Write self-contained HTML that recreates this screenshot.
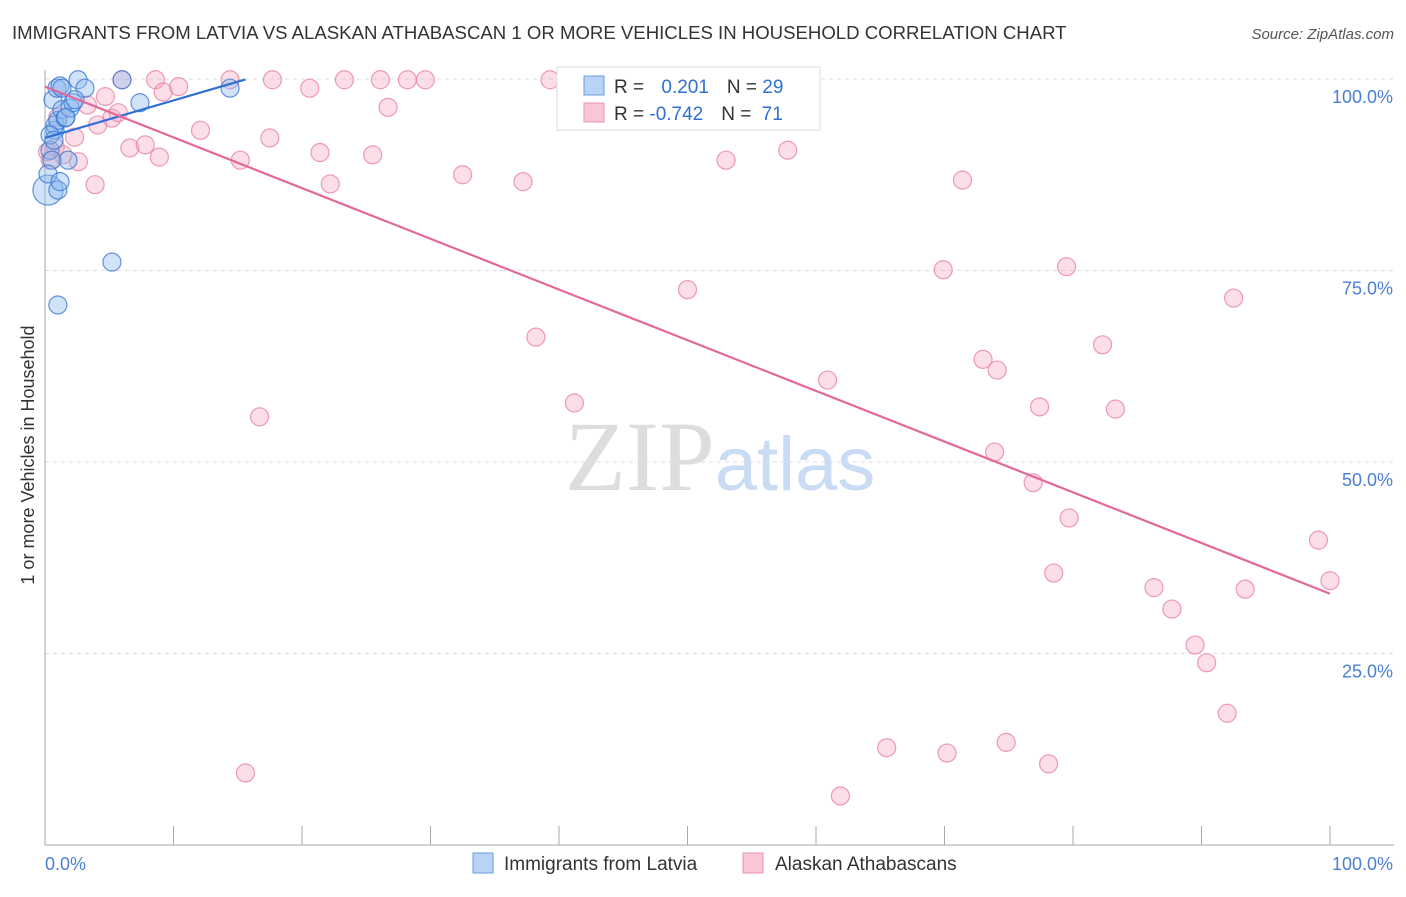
<!DOCTYPE html>
<html><head><meta charset="utf-8"><style>
body{margin:0;background:#fff;font-family:"Liberation Sans",sans-serif;}
</style></head><body>
<svg id="c" width="1406" height="892" xmlns="http://www.w3.org/2000/svg" style="font-family:'Liberation Sans',sans-serif">
<text x="12" y="39" font-size="18.6" fill="#333">IMMIGRANTS FROM LATVIA VS ALASKAN ATHABASCAN 1 OR MORE VEHICLES IN HOUSEHOLD CORRELATION CHART</text>
<text x="1394" y="39" font-size="15" fill="#555" text-anchor="end" font-style="italic">Source: ZipAtlas.com</text>
<text x="720" y="490" font-size="100" fill="#ddd" text-anchor="middle" font-family="Liberation Serif">ZIP<tspan fill="#c9dcf3" font-family="Liberation Sans" font-size="76">atlas</tspan></text>
<g id="grid"></g><g id="axes"></g><g id="pts"></g><g id="lines"></g>
<text transform="translate(34,455) rotate(-90)" font-size="18" fill="#333" text-anchor="middle">1 or more Vehicles in Household</text>
<g>
<rect x="557" y="67" width="263" height="63" fill="#fff" stroke="#ddd"/>
<rect x="584" y="76" width="20" height="19" fill="#b9d3f5" stroke="#6a9ee0"/>
<rect x="584" y="103" width="20" height="19" fill="#f8c6d6" stroke="#e896b1"/>
<text x="614" y="93" font-size="19" fill="#333">R = <tspan fill="#2f6fd6" dx="12">0.201</tspan><tspan dx="18" fill="#333">N = </tspan><tspan fill="#2f6fd6">29</tspan></text>
<text x="614" y="120" font-size="19" fill="#333">R = <tspan fill="#2f6fd6">-0.742</tspan><tspan dx="18" fill="#333">N = </tspan><tspan fill="#2f6fd6" dx="5">71</tspan></text>
</g>
<g>
<rect x="473" y="853" width="20" height="20" fill="#b9d3f5" stroke="#6a9ee0"/>
<text x="504" y="870" font-size="19" fill="#333">Immigrants from Latvia</text>
<rect x="743" y="853" width="20" height="20" fill="#f8c6d6" stroke="#e896b1"/>
<text x="775" y="870" font-size="19" fill="#333">Alaskan Athabascans</text>
</g>
</svg>
<script>
const yTicks=[25,50,75,100];
const yTickLabels=["25.0%","50.0%","75.0%","100.0%"];
const xTickLabels=["0.0%","100.0%"];
const blueX=[0.23,0.62,0.78,0.93,1.17,1.32,0.39,0.78,1.0,1.32,1.56,1.95,2.18,1.79,0.54,1.0,1.0,5.21,2.57,3.11,5.99,7.39,14.4,0.23,0.39,0.7,1.63,2.33,1.17];
const blueY=[85.5,97.3,93.3,98.8,99.1,98.8,90.7,94.0,94.6,96.0,94.9,96.2,96.9,89.4,89.4,85.5,70.5,76.1,99.9,98.8,99.9,96.9,98.8,87.6,92.7,92.0,95.0,97.3,86.6];
const pinkX=[0.2,0.4,0.8,1.4,2.3,2.6,3.3,3.9,4.1,4.7,5.2,5.7,6.0,6.6,8.6,8.9,9.2,7.8,10.4,12.1,14.4,15.2,15.6,16.7,17.5,17.7,20.6,21.4,22.2,23.3,25.5,26.1,26.7,28.2,29.6,32.5,37.2,38.2,39.3,41.2,50.0,53.0,57.8,60.9,61.9,65.5,69.9,70.2,71.4,73.0,74.1,73.9,74.8,76.9,77.4,78.1,78.5,79.5,79.7,82.3,83.3,86.3,87.7,89.5,90.4,92.0,92.5,93.4,99.1,100,1.0];
const pinkY=[90.5,89.4,91.1,90.1,92.4,89.2,96.6,86.2,94.0,97.7,94.9,95.6,99.9,91.0,99.9,89.8,98.3,91.4,99.0,93.3,99.9,89.4,9.4,55.9,92.3,99.9,98.8,90.4,86.3,99.9,90.1,99.9,96.3,99.9,99.9,87.5,86.6,66.3,99.9,57.7,72.5,89.4,90.7,60.7,6.4,12.7,75.1,12.0,86.8,63.4,62.0,51.3,13.4,47.3,57.2,10.6,35.5,75.5,42.7,65.3,56.9,33.6,30.8,26.1,23.8,17.2,71.4,33.4,39.8,34.5,95.0];
const blueFit=[92.3,0.49,0,15.6];
const pinkFit=[99.0,-0.662,0,100];
const X=v=>45+v*12.85, Y=v=>845-v*7.66;
const NS="http://www.w3.org/2000/svg";
function mk(p,t,a){const e=document.createElementNS(NS,t);for(const k in a)e.setAttribute(k,a[k]);document.getElementById(p).appendChild(e);return e;}
yTicks.forEach((t,i)=>{
 const g=mk('grid','line',{x1:45,x2:1394,y1:Y(t),y2:Y(t),stroke:'#ddd','stroke-dasharray':'4,4'});
 
 
 const l=mk('axes','text',{x:1393,y:Y(t)+24,'font-size':18,fill:'#4a7fd4','text-anchor':'end'});
 l.textContent=yTickLabels[i];
 
 
});
const ax=mk('axes','line',{x1:45,x2:45,y1:70,y2:845,stroke:'#aaa'});


const bx=mk('axes','line',{x1:45,x2:1394,y1:845,y2:845,stroke:'#aaa'});


for(let i=0;i<=10;i++){const t=mk('axes','line',{x1:X(i*10),x2:X(i*10),y1:826,y2:845,stroke:'#aaa'});
 
 }
[[0,'start',45],[1,'end',1393]].forEach(([i,an,x])=>{const l=mk('axes','text',{x:x,y:870,'font-size':18,fill:'#4a7fd4','text-anchor':an});l.textContent=xTickLabels[i];
 
 });
pinkX.forEach((v,i)=>{const c=mk('pts','circle',{cx:X(v),cy:Y(pinkY[i]),r:9,fill:'rgba(244,160,188,0.35)',stroke:'rgba(232,130,165,0.8)','stroke-width':1.2});
 
 });
blueX.forEach((v,i)=>{const c=mk('pts','circle',{cx:X(v),cy:Y(blueY[i]),r:i==0?15:9,fill:'rgba(140,185,240,0.4)',stroke:'rgba(60,120,210,0.8)','stroke-width':1.2});
 
 });
[[blueFit,'#2f6fd6','latvia-trend-line'],[pinkFit,'#e4679a','athabascan-trend-line']].forEach(([f,col,n])=>{
 const l=mk('lines','line',{x1:X(f[2]),y1:Y(f[0]+f[1]*f[2]),x2:X(f[3]),y2:Y(f[0]+f[1]*f[3]),stroke:col,'stroke-width':2.2});
 
 });
</script>
</body></html>
